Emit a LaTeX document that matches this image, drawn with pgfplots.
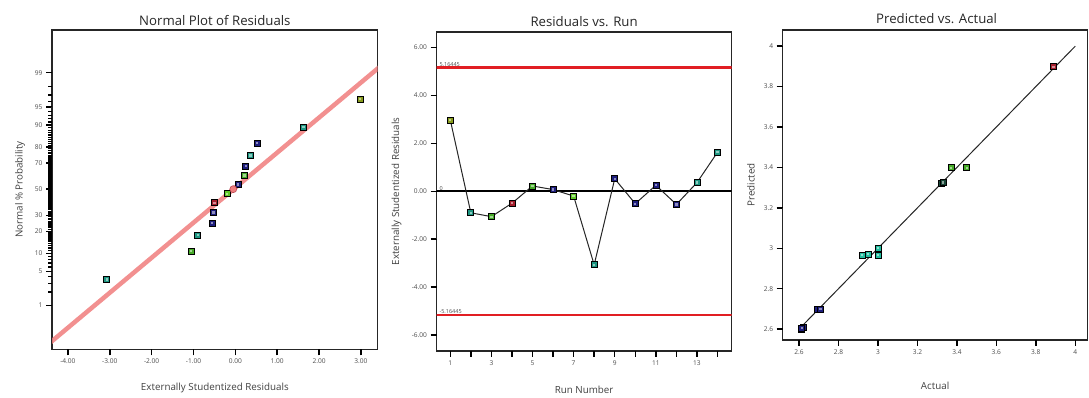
\documentclass[border=0pt]{standalone}
\usepackage{fontspec}
\setmainfont{Open Sans}
\usepackage{pgfplots}
\pgfplotsset{compat=1.18}

\definecolor{dxnavy}{RGB}{30,30,125}
\definecolor{dxteal}{RGB}{30,150,130}
\definecolor{dxgreen}{RGB}{70,170,40}
\definecolor{dxlime}{RGB}{95,200,40}
\definecolor{dxolive}{RGB}{135,155,30}
\definecolor{dxred}{RGB}{165,30,45}
\definecolor{dxcyan}{RGB}{35,190,160}
\definecolor{dxdark}{RGB}{25,70,55}
\definecolor{fitline}{RGB}{240,125,125}
\definecolor{limitred}{RGB}{225,30,35}

% square marker with a pale centre, as drawn by the design software
\pgfdeclareplotmark{dsq}{%
  \pgfpathrectangle{\pgfpoint{-\pgfplotmarksize}{-\pgfplotmarksize}}%
    {\pgfpoint{2\pgfplotmarksize}{2\pgfplotmarksize}}%
  \pgfusepathqfillstroke
  \begin{pgfscope}
  \pgfsetfillopacity{0.5}\pgfsetfillcolor{white}%
  \pgfpathrectangle{\pgfpoint{-0.38\pgfplotmarksize}{-0.38\pgfplotmarksize}}%
    {\pgfpoint{0.76\pgfplotmarksize}{0.76\pgfplotmarksize}}%
  \pgfusepathqfill
  \end{pgfscope}
}

% outward tick strokes along the bottom and left edges of the current axis
\newcommand{\bottomticks}[3]{% #1 list, #2 y of bottom edge, #3 length
  \foreach \t in {#1} {\draw[black, line width=1.5pt] (axis cs:\t,#2) -- ++(0,-#3);}}
\newcommand{\leftticks}[3]{% #1 list, #2 x of left edge, #3 length
  \foreach \t in {#1} {\draw[black, line width=1.3pt] (axis cs:#2,\t) -- ++(-#3,0);}}

\pgfplotsset{
  dx/.style={
    scale only axis,
    axis line style={line width=1.4pt, black!85},
    every major tick/.style={draw=black, line width=1.5pt},
    every minor tick/.style={draw=black, line width=1.3pt},
    tick align=outside,
    xtick pos=bottom, ytick pos=left,
    major tick length=6pt, minor tick length=4.5pt,
    tick label style={font=\fontsize{6.6}{7}\selectfont, text=black!70},
    /pgf/number format/assume math mode=true,
    label style={font=\fontsize{9.8}{11}\selectfont, text=black!75},
    title style={font=\fontsize{13.2}{15}\selectfont, text=black!85},
  },
  respt/.style={only marks, mark=dsq, mark size=3pt,
    mark options={draw=black, line width=0.7pt, fill=#1}},
}

\begin{document}
\begin{tikzpicture}
\useasboundingbox (0pt,0pt) rectangle (1089pt,398pt);

% ---------------- Normal plot of residuals ----------------
\begin{axis}[dx,
  at={(52pt,48.7pt)}, anchor=south west,
  width=325.7pt, height=319.3pt,
  xmin=-4.38, xmax=3.40, ymin=-3.2, ymax=3.18,
  xtick={-4,-3,-2,-1,0,1,2,3},
  xticklabel style={/pgf/number format/.cd, fixed, fixed zerofill, precision=2},
  ytick={-2.3263,-1.6449,-1.2816,-0.8416,-0.5244,0,0.5244,0.8416,1.2816,1.6449,2.3263},
  yticklabels={1,5,10,20,30,50,70,80,90,95,99},
  title={Normal Plot of Residuals},
  title style={at={(axis description cs:0.5,1.029)}, anchor=center, yshift=-6pt},
  xlabel={Externally Studentized Residuals},
  xlabel style={at={(axis description cs:0.5,-0.121)}, anchor=center},
  ylabel={Normal \% Probability},
  ylabel style={at={(axis description cs:-0.098,0.5)}, anchor=center},
  after end axis/.code={
    \bottomticks{-4,-3,-2,-1,0,1,2,3}{-3.2}{6pt}
    \leftticks{-2.3263,-1.6449,-1.2816,-0.8416,-0.5244,0,0.5244,0.8416,1.2816,1.6449,2.3263}{-4.38}{6pt}
    % a tick at every whole percent
    \leftticks{-2.0537,-1.8808,-1.7507,-1.5548,-1.4758,-1.4051,-1.3408,-1.2265,-1.1750,-1.1264,-1.0803,-1.0364,-0.9945,-0.9542,-0.9154,-0.8779,-0.8064,-0.7722,-0.7388,-0.7063,-0.6745,-0.6433,-0.6128,-0.5828,-0.5534,-0.4959,-0.4677,-0.4399,-0.4125,-0.3853,-0.3585,-0.3319,-0.3055,-0.2793,-0.2533,-0.2275,-0.2019,-0.1764,-0.1510,-0.1257,-0.1004,-0.0753,-0.0502,-0.0251,0.0251,0.0502,0.0753,0.1004,0.1257,0.1510,0.1764,0.2019,0.2275,0.2533,0.2793,0.3055,0.3319,0.3585,0.3853,0.4125,0.4399,0.4677,0.4959,0.5534,0.5828,0.6128,0.6433,0.6745,0.7063,0.7388,0.7722,0.8064,0.8779,0.9154,0.9542,0.9945,1.0364,1.0803,1.1264,1.1750,1.2265,1.3408,1.4051,1.4758,1.5548,1.7507,1.8808,2.0537}{-4.38}{4.5pt}
  },
]
  % fitted reference line
  \addplot[fitline, line width=4.5pt, opacity=0.85] coordinates {(-4.5,-3.12) (3.5,2.48)};
  % residuals against normal quantiles of (i-0.5)/14
  \addplot[respt=dxteal]  coordinates {(-3.07,-1.803) (-0.90,-0.921) (0.36,0.674) (1.63,1.242)};
  \addplot[respt=dxgreen] coordinates {(-1.06,-1.242) (0.22,0.272)};
  \addplot[respt=dxlime]  coordinates {(-0.20,-0.090)};
  \addplot[respt=dxnavy]  coordinates {(-0.55,-0.674) (-0.52,-0.464) (0.07,0.090) (0.25,0.464) (0.52,0.921)};
  \addplot[respt=dxred]   coordinates {(-0.50,-0.272)};
  \addplot[respt=dxolive] coordinates {(2.98,1.803)};
  \addplot[only marks, mark=*, mark size=3.5pt,
    mark options={fill=fitline, draw=dxred!80, line width=0.6pt}] coordinates {(-0.05,0.0)};
\end{axis}

% ---------------- Residuals vs. run ----------------
\begin{axis}[dx,
  at={(436.5pt,47pt)}, anchor=south west,
  width=295.2pt, height=319pt,
  xmin=0.33, xmax=14.69, ymin=-6.67, ymax=6.65,
  xtick={1,...,14},
  xticklabels={1,,3,,5,,7,,9,,11,,13,},
  ytick={-6,-4,-2,0,2,4,6},
  yticklabel style={/pgf/number format/.cd, fixed, fixed zerofill, precision=2},
  title={Residuals vs. Run},
  title style={at={(axis description cs:0.5,1.032)}, anchor=center, yshift=-6pt},
  xlabel={Run Number},
  xlabel style={at={(axis description cs:0.5,-0.122)}, anchor=center},
  ylabel={Externally Studentized Residuals},
  ylabel style={at={(axis description cs:-0.135,0.5)}, anchor=center},
  after end axis/.code={
    \bottomticks{1,...,14}{-6.67}{6pt}
    \leftticks{-6,-4,-2,0,2,4,6}{0.33}{6pt}
  },
]
  \addplot[limitred, line width=2.2pt] coordinates {(0,5.16445) (15,5.16445)};
  \addplot[limitred, line width=2.2pt] coordinates {(0,-5.16445) (15,-5.16445)};
  \addplot[black, line width=2.2pt] coordinates {(0,0) (15,0)};
  \node[anchor=south west, inner sep=1pt, font=\fontsize{5.5}{6}\selectfont, text=black!70]
    at (axis cs:0.42,5.16445) {5.16445};
  \node[anchor=south west, inner sep=1pt, font=\fontsize{5.5}{6}\selectfont, text=black!70]
    at (axis cs:0.42,0) {0};
  \node[anchor=south west, inner sep=1pt, font=\fontsize{5.5}{6}\selectfont, text=black!70]
    at (axis cs:0.42,-5.16445) {-5.16445};
  \addplot[black!85, line width=1pt] coordinates {
    (1,2.98) (2,-0.90) (3,-1.06) (4,-0.50) (5,0.22) (6,0.07) (7,-0.20)
    (8,-3.07) (9,0.52) (10,-0.52) (11,0.25) (12,-0.55) (13,0.36) (14,1.63)};
  \addplot[respt=dxolive] coordinates {(1,2.98)};
  \addplot[respt=dxteal]  coordinates {(2,-0.90) (8,-3.07) (13,0.36) (14,1.63)};
  \addplot[respt=dxgreen] coordinates {(3,-1.06) (5,0.22)};
  \addplot[respt=dxlime]  coordinates {(7,-0.20)};
  \addplot[respt=dxred]   coordinates {(4,-0.50)};
  \addplot[respt=dxnavy]  coordinates {(6,0.07) (9,0.52) (10,-0.52) (11,0.25) (12,-0.55)};
\end{axis}

% ---------------- Predicted vs. actual ----------------
\begin{axis}[dx,
  at={(782.7pt,58pt)}, anchor=south west,
  width=304.8pt, height=310pt,
  xmin=2.517, xmax=4.062, ymin=2.546, ymax=4.08,
  xtick={2.6,2.8,3,3.2,3.4,3.6,3.8,4},
  ytick={2.6,2.8,3,3.2,3.4,3.6,3.8,4},
  title={Predicted vs. Actual},
  title style={at={(axis description cs:0.505,1.038)}, anchor=center, yshift=-6pt},
  xlabel={Actual},
  xlabel style={at={(axis description cs:0.5,-0.147)}, anchor=center},
  ylabel={Predicted},
  ylabel style={at={(axis description cs:-0.104,0.5)}, anchor=center},
  after end axis/.code={
    \bottomticks{2.6,2.8,3,3.2,3.4,3.6,3.8,4}{2.546}{6pt}
    \leftticks{2.6,2.8,3,3.2,3.4,3.6,3.8,4}{2.517}{6pt}
  },
]
  \addplot[black!85, line width=1pt] coordinates {(2.6,2.6) (4.0,4.0)};
  \addplot[respt=dxnavy] coordinates {(2.61,2.600) (2.62,2.610) (2.613,2.605) (2.695,2.700) (2.708,2.700)};
  \addplot[respt=dxcyan] coordinates {(2.92,2.965) (2.95,2.970) (3.00,3.000) (3.00,2.965)};
  \addplot[respt=dxdark] coordinates {(3.32,3.323) (3.33,3.325)};
  \addplot[respt=dxgreen] coordinates {(3.37,3.398) (3.45,3.398)};
  \addplot[respt=dxred] coordinates {(3.89,3.898)};
\end{axis}
\end{tikzpicture}
\end{document}
